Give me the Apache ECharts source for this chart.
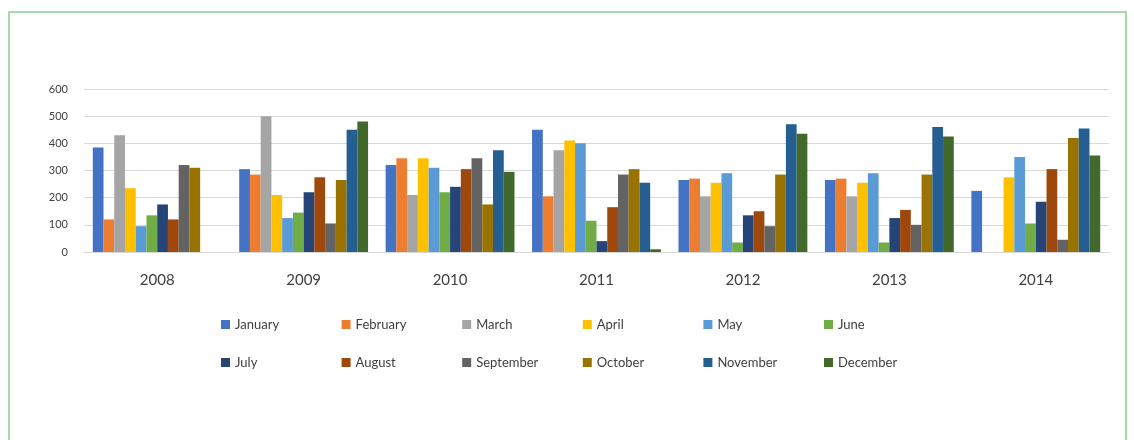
<!DOCTYPE html>
<html>
<head>
<meta charset="utf-8">
<script src="https://cdn.jsdelivr.net/npm/echarts@6/dist/echarts.min.js"></script>
<style>
  html, body { margin: 0; padding: 0; background: #fff; }
  #frame { position: absolute; left: 8px; top: 11px; width: 1119px; height: 440px;
           border: 2px solid #a9d8a9; border-bottom: none; box-sizing: border-box; }
  #chart { position: absolute; left: 0; top: 0; width: 1134px; height: 440px; }
</style>
</head>
<body>
<div id="frame"></div>
<div id="chart"></div>
<script>
// Years on the category axis
const years = ['2008', '2009', '2010', '2011', '2012', '2013', '2014'];
const months = ['January', 'February', 'March', 'April', 'May', 'June',
                'July', 'August', 'September', 'October', 'November', 'December'];
const yTicks = [0, 100, 200, 300, 400, 500, 600];

// Monthly values per year (one array per month, 2008..2014)
const january   = [385, 305, 320, 450, 265, 265, 225];
const february  = [120, 285, 345, 205, 270, 270, 0];
const march     = [430, 500, 210, 375, 205, 205, 0];
const april     = [235, 210, 345, 410, 255, 255, 275];
const may       = [95, 125, 310, 400, 290, 290, 350];
const june      = [135, 145, 220, 115, 35, 35, 105];
const july      = [175, 220, 240, 40, 135, 125, 185];
const august    = [120, 275, 305, 165, 150, 155, 305];
const september = [320, 105, 345, 285, 95, 100, 45];
const october   = [310, 265, 175, 305, 285, 285, 420];
const november  = [0, 450, 375, 255, 470, 460, 455];
const december  = [0, 480, 295, 10, 435, 425, 355];

const monthValues = [january, february, march, april, may, june,
                     july, august, september, october, november, december];
const colors = ['#4472C4', '#ED7D31', '#A5A5A5', '#FFC000', '#5B9BD5', '#70AD47',
                '#264478', '#9E480E', '#636363', '#997300', '#255E91', '#43682B'];

const font = 'Lato, "Open Sans", sans-serif';

const chart = echarts.init(document.getElementById('chart'));

// One legend entry per month, laid out on a fixed 6-column grid
const legends = months.map((m, i) => ({
  left: 216 + (i % 6) * 120.6,
  top: i < 6 ? 313 : 351,
  data: [m], itemWidth: 9, itemHeight: 9, itemGap: 0,
  icon: 'rect', selectedMode: false,
  textStyle: { color: '#404040', fontSize: 13, fontFamily: font }
}));

chart.setOption({
  animation: false,
  color: colors,
  grid: { left: 84, right: 25, top: 89, bottom: 188 },
  legend: legends,
  xAxis: {
    type: 'category', data: years,
    axisLine: { lineStyle: { color: '#d9d9d9' } },
    axisTick: { show: false },
    axisLabel: { color: '#404040', fontSize: 15, fontFamily: font, margin: 21 }
  },
  yAxis: {
    type: 'value', min: yTicks[0], max: yTicks[yTicks.length - 1], interval: 100,
    axisLine: { show: false }, axisTick: { show: false },
    splitLine: { lineStyle: { color: '#d9d9d9' } },
    axisLabel: { color: '#404040', fontSize: 11, fontFamily: font, margin: 16 }
  },
  series: months.map((m, i) => ({
    name: m, type: 'bar', data: monthValues[i],
    barGap: '0%', barCategoryGap: '12%',
    itemStyle: { color: colors[i] }
  }))
});
</script>
</body>
</html>
